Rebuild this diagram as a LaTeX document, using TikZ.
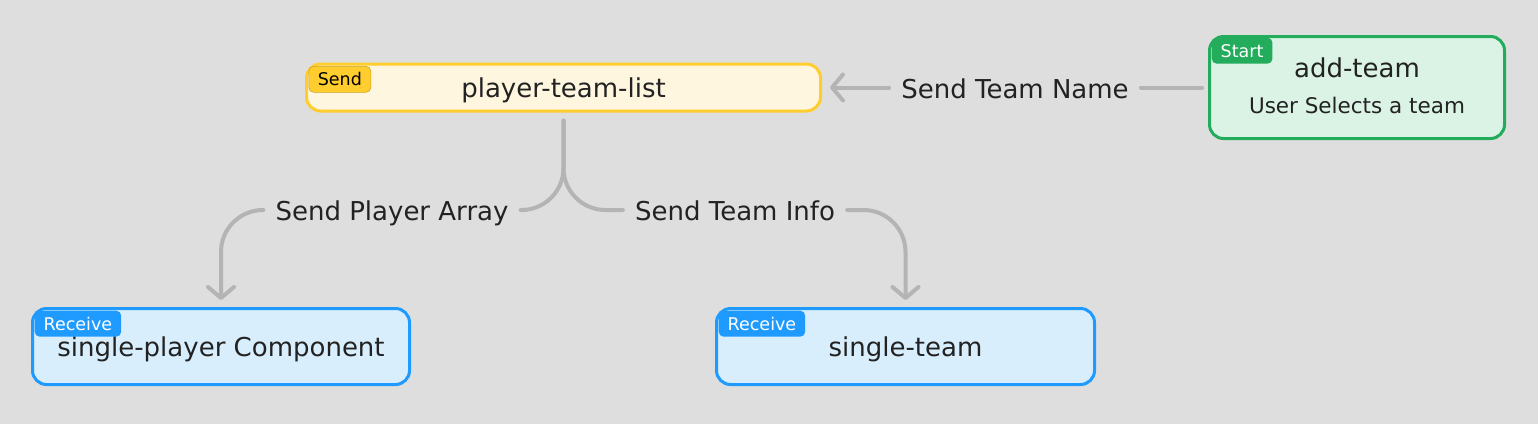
\documentclass[tikz,border=0pt]{standalone}
\usepackage{fontspec}
\setmainfont{DejaVu Sans}
\usetikzlibrary{arrows.meta}
\definecolor{bggray}{HTML}{DEDEDE}
\definecolor{linegray}{HTML}{B4B4B4}
\definecolor{textcol}{HTML}{222222}
\definecolor{sendline}{HTML}{FFCD2E}
\definecolor{sendfill}{HTML}{FFF6E0}
\definecolor{startline}{HTML}{22AC5B}
\definecolor{startfill}{HTML}{DBF3E5}
\definecolor{recvline}{HTML}{1F9BFF}
\definecolor{recvfill}{HTML}{D8EEFC}
\begin{document}
\begin{tikzpicture}[x=1pt,y=-1pt,
    box/.style={rectangle,rounded corners=14pt,line width=3pt,text=textcol,
        text height=20pt,text depth=0pt,font=\fontsize{26}{30}\selectfont},
    badge/.style={rectangle,rounded corners=5pt,anchor=north west,minimum height=26pt,
        inner xsep=9pt,inner ysep=0pt,font=\fontsize{17.5}{20}\selectfont},
    conn/.style={draw=linegray,line width=4pt,line cap=round},
    tip/.style={-{Straight Barb[round,length=11pt,width=26pt]}},
    lbl/.style={text=textcol,inner xsep=12pt,text height=21pt,text depth=0pt,
        font=\fontsize{26}{30}\selectfont}]
    \fill[bggray] (0,0) rectangle (1538,424);

    % boxes
    \node[box,draw=sendline,fill=sendfill,minimum width=514pt,minimum height=47pt]
        (ptl) at (563.5,87.5) {player-team-list};
    \node[box,draw=startline,fill=startfill,minimum width=295pt,minimum height=102pt]
        (addteam) at (1357,87.5) {};
    \node[anchor=base,text=textcol,font=\fontsize{26}{30}\selectfont]
        (addname) at (1357,77) {add-team};
    \node[anchor=base,text=textcol,font=\fontsize{21.5}{26}\selectfont]
        (adddesc) at (1357,113) {User Selects a team};
    \node[box,draw=recvline,fill=recvfill,minimum width=377pt,minimum height=76pt]
        (player) at (221,346.5) {single-player Component};
    \node[box,draw=recvline,fill=recvfill,minimum width=378pt,minimum height=76pt]
        (team) at (905.5,346.5) {single-team};

    % badges
    \node[badge,fill=sendline,draw=sendline!80!black,line width=0.6pt,text=black]
        (sendtag) at ([xshift=3.5pt,yshift=-3.5pt]ptl.north west) {Send};
    \node[badge,fill=startline,text=white]
        (starttag) at ([xshift=3.5pt,yshift=-2.5pt]addteam.north west) {Start};
    \node[badge,fill=recvline,text=white]
        (playertag) at ([xshift=3.5pt,yshift=-3.5pt]player.north west) {Receive};
    \node[badge,fill=recvline,text=white]
        (teamtag) at ([xshift=3.5pt,yshift=-3.5pt]team.north west) {Receive};

    % labels
    \node[lbl] (namelbl) at (1015,87.5) {Send Team Name};
    \node[lbl] (arraylbl) at (392,210) {Send Player Array};
    \node[lbl] (infolbl) at (735,210) {Send Team Info};

    % connectors
    \draw[conn,shorten <=6pt] (addteam.west) -- (namelbl.east);
    \draw[conn,tip,shorten >=8pt] (namelbl.west) -- (ptl.east);
    \draw[conn,rounded corners=42pt,shorten <=8pt] (ptl.south) |- (arraylbl.east);
    \draw[conn,rounded corners=42pt,shorten <=8pt] (ptl.south) |- (infolbl.west);
    \draw[conn,tip,rounded corners=42pt,shorten >=7pt] (arraylbl.west) -| (player.north);
    \draw[conn,tip,rounded corners=42pt,shorten >=7pt] (infolbl.east) -| (team.north);
\end{tikzpicture}
\end{document}
